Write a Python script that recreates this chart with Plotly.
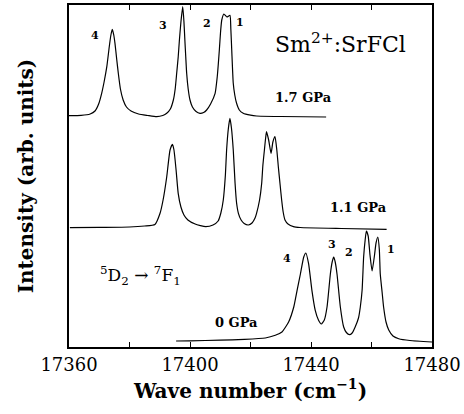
import plotly.graph_objects as go

# ---- data (wave number in cm^-1, intensity in arb. units incl. vertical offset) ----
wn_0gpa = [17395.4, 17400, 17410, 17418, 17424.9, 17428.2, 17430.4, 17432.6, 17434.3, 17435.4,
           17436.5, 17437.6, 17438.3, 17439.2, 17440.3, 17441.4, 17442.5, 17443.4, 17444.4,
           17445.3, 17446.4, 17447.0, 17447.5, 17448.0, 17448.6, 17449.7, 17450.8, 17451.7,
           17452.7, 17453.6, 17454.6, 17455.7, 17456.3, 17456.9, 17457.4, 17457.9, 17458.3,
           17458.9, 17459.5, 17460.2, 17461.0, 17461.5, 17462.1, 17462.6, 17462.9, 17463.5,
           17464.0, 17464.8, 17465.7, 17467.1, 17469.0, 17472.7, 17480.0]
int_0gpa = [6, 6.2, 6.8, 7.6, 9, 11.7, 15, 25, 40, 56.7,
            73, 90, 94, 83.3, 56.7, 36.7, 26.7, 23, 27,
            40, 73, 85, 90, 85, 73, 40, 20, 14.5,
            12.3, 14, 20, 29, 40, 57, 90, 107, 116,
            111, 92, 76, 92, 104, 110, 97, 73, 55,
            40, 25, 17, 11, 8.3, 6.5, 5]

wn_11gpa = [17360.3, 17370, 17380, 17385, 17388.4, 17390.1, 17391.1, 17392.3, 17393.4, 17394.2,
            17394.7, 17395.4, 17396.1, 17397.0, 17398.0, 17399.3, 17401.7, 17405.2, 17407.6,
            17409.3, 17410.2, 17411.0, 17411.7, 17412.1, 17412.7, 17413.2, 17413.7, 17414.3,
            17414.9, 17415.4, 17416.0, 17416.9, 17417.9, 17419.3, 17420.5, 17421.5, 17422.0,
            17423.0, 17423.7, 17424.1, 17424.6, 17425.0, 17425.3, 17426.0, 17426.8, 17427.4,
            17428.1, 17428.7, 17429.2, 17429.8, 17430.3, 17430.8, 17431.4, 17432.4, 17434.2,
            17436.4, 17450.0, 17465.0]
int_11gpa = [119.3, 119.6, 120, 121, 122.5, 133.7, 147, 170, 197, 202.7,
             197, 177, 153.7, 140, 132, 127, 123, 120.3, 122,
             126, 134, 147, 172, 197, 219, 228.7, 219, 197,
             163.7, 144, 133.7, 127, 123.5, 122, 124, 129, 133.7,
             147, 163.7, 182, 197, 209, 215.3, 207, 193.7, 205,
             210.3, 197, 180.3, 162, 147, 135, 127, 123, 120.3,
             119.5, 118.5, 117.7]

wn_17gpa = [17360.0, 17364.0, 17367.0, 17368.6, 17369.8, 17370.8, 17371.6, 17372.5, 17373.3,
            17373.8, 17374.3, 17374.8, 17375.2, 17375.8, 17376.3, 17377.0, 17377.9, 17379.0,
            17380.5, 17383.0, 17386.0, 17389.0, 17391.0, 17392.3, 17393.5, 17394.5, 17395.1,
            17395.6, 17396.1, 17396.5, 17397.0, 17397.6, 17398.0, 17398.3, 17398.6, 17398.9,
            17399.4, 17400.0, 17400.8, 17402.0, 17403.3, 17404.5, 17405.5, 17406.8, 17408.3,
            17409.0, 17409.7, 17410.1, 17410.5, 17411.2, 17412.2, 17413.2, 17413.5, 17413.8,
            17414.3, 17414.8, 17415.4, 17416.3, 17417.6, 17420.0, 17422.0, 17430.0, 17445.0]
int_17gpa = [231.3, 231.6, 233, 236, 243, 253.7, 265, 280.3, 300,
             311, 317.7, 312, 303.7, 287, 273.7, 258, 247, 240,
             236, 233, 231.5, 230.3, 231.5, 233.7, 238, 247, 258,
             273.7, 290, 307, 325, 340.3, 325, 307, 290, 273.7,
             258, 247, 240, 235.5, 233.7, 234.5, 237, 243, 253.7,
             270, 297, 315, 327, 333, 330, 331.7, 318, 297,
             263.7, 252, 243.7, 237, 233.7, 231.8, 231, 230.5, 230]

tick_vals = [17360, 17400, 17440, 17480]
tick_text = ["17360", "17400", "17440", "17480"]

pressure_labels = ["1.7 GPa", "1.1 GPa", "0 GPa"]
peak_labels = ["4", "3", "2", "1"]

SERIF = "DejaVu Serif"

fig = go.Figure()
for wn, inten in [(wn_17gpa, int_17gpa), (wn_11gpa, int_11gpa), (wn_0gpa, int_0gpa)]:
    fig.add_trace(go.Scatter(x=wn, y=inten, mode="lines",
                             line=dict(color="black", width=1.2, shape="spline", smoothing=0.5),
                             showlegend=False, hoverinfo="skip"))

annots = []
# peak numbers, 1.7 GPa
for txt, x, y in zip(peak_labels, [17368.6, 17391.0, 17405.7, 17416.6], [312, 322, 323.7, 324.3]):
    annots.append(dict(x=x, y=y, text=txt, showarrow=False,
                       font=dict(family=SERIF, size=11, color="black", weight="bold")))
# peak numbers, 0 GPa
for txt, x, y in zip(peak_labels, [17432.1, 17446.9, 17452.7, 17466.5], [88.3, 102.7, 94.3, 97.3]):
    annots.append(dict(x=x, y=y, text=txt, showarrow=False,
                       font=dict(family=SERIF, size=11, color="black", weight="bold")))
# pressure labels
for txt, x, y in zip(pressure_labels, [17437.6, 17455.8, 17415.5], [249.3, 139.3, 25]):
    annots.append(dict(x=x, y=y, text=txt, showarrow=False,
                       font=dict(family=SERIF, size=13, color="black", weight="bold")))
annots.append(dict(x=17449.6, y=303.7, text="Sm<sup>2+</sup>:SrFCl", showarrow=False,
                   font=dict(family=SERIF, size=22, color="black")))
annots.append(dict(x=17383.8, y=71.7, text="<sup>5</sup>D<sub>2</sub> \u2192 <sup>7</sup>F<sub>1</sub>",
                   showarrow=False, font=dict(family=SERIF, size=17, color="black")))

fig.update_layout(
    width=464, height=414,
    margin=dict(l=69, r=32, t=5, b=67),
    paper_bgcolor="white", plot_bgcolor="white",
    font=dict(family=SERIF, color="black"),
    annotations=annots,
    xaxis=dict(range=[17360, 17480], tickvals=tick_vals, ticktext=tick_text,
               ticks="inside", ticklen=5, tickwidth=1.2, tickcolor="black",
               minor=dict(dtick=20, tick0=17360, ticks="inside", ticklen=5, tickwidth=1.2, tickcolor="black"),
               showline=True, linecolor="black", linewidth=2, mirror="ticks",
               showgrid=False, zeroline=False, automargin=False,
               tickfont=dict(family=SERIF, size=18, color="black"),
               title=dict(text="Wave number (cm<sup>\u22121</sup>)", standoff=10,
                          font=dict(family=SERIF, size=20, color="black", weight="bold"))),
    yaxis=dict(range=[0, 342], showticklabels=False, ticks="",
               showline=True, linecolor="black", linewidth=2, mirror=True,
               showgrid=False, zeroline=False, automargin=False,
               title=dict(text="Intensity (arb. units)", standoff=28,
                          font=dict(family=SERIF, size=20, color="black", weight="bold"))),
)

fig.write_html("out.html", config={"displayModeBar": False},
               post_script="document.body.style.margin='0px';")
